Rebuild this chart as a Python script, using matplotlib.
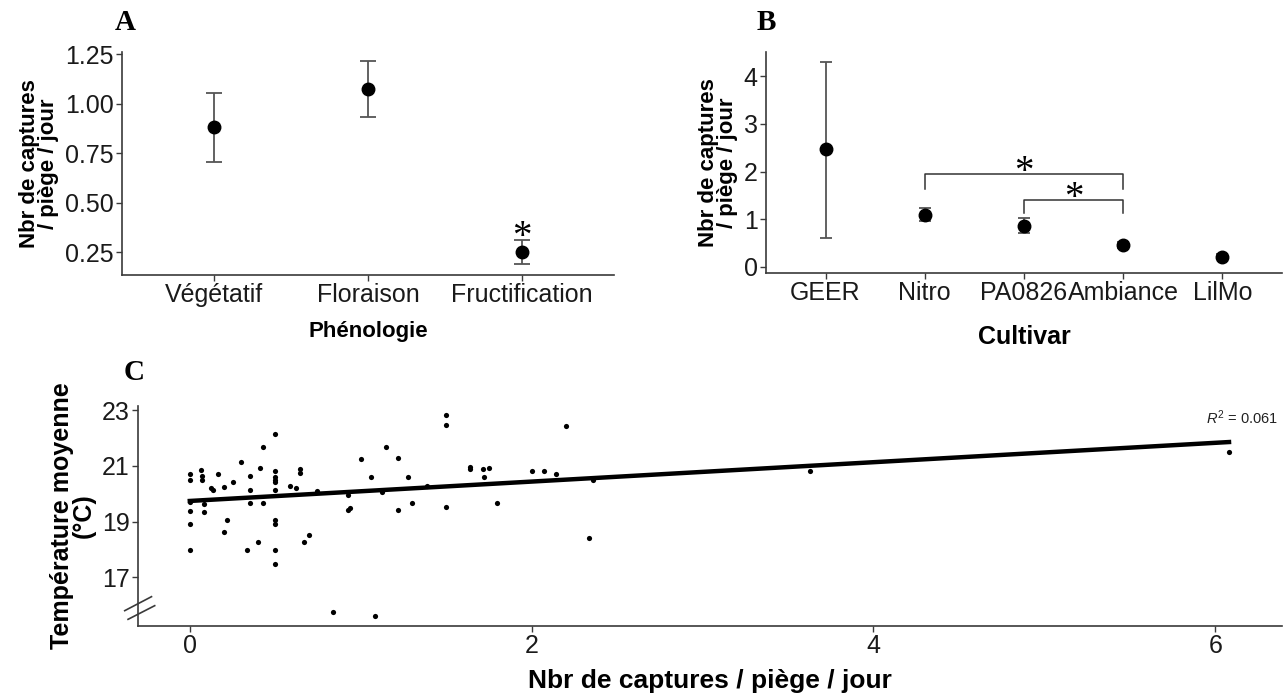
import numpy as np
import matplotlib
matplotlib.use('Agg')
import matplotlib.pyplot as plt

plt.rcParams['font.family'] = ['Liberation Sans', 'DejaVu Sans']
plt.rcParams['mathtext.fontset'] = 'custom'
plt.rcParams['mathtext.rm'] = 'Liberation Sans'
plt.rcParams['mathtext.it'] = 'Liberation Sans:italic'

# ---------------- Data ----------------
# Panel A : phenology
phen_cats = ['Végétatif', 'Floraison', 'Fructification']
phen_mean = [0.882, 1.076, 0.250]
phen_low = [0.706, 0.931, 0.189]
phen_high = [1.053, 1.215, 0.312]
phen_yticks = [0.25, 0.50, 0.75, 1.00, 1.25]
phen_signif = ['', '', '*']

# Panel B : cultivar
cult_cats = ['GEER', 'Nitro', 'PA0826', 'Ambiance', 'LilMo']
cult_mean = [2.47, 1.10, 0.87, 0.46, 0.22]
cult_low = [0.61, 0.96, 0.71, 0.40, 0.17]
cult_high = [4.31, 1.24, 1.03, 0.52, 0.27]
cult_yticks = [0, 1, 2, 3, 4]
# brackets: (left category, right category, top level, leg bottom)
brackets = [('Nitro', 'Ambiance', 1.95, 1.63),
            ('PA0826', 'Ambiance', 1.40, 1.13)]

# Panel C : captures vs temperature
capt_x = [0, 0, 0, 0, 0, 0,
          0.063, 0.072, 0.072, 0.084, 0.084, 0.127, 0.137, 0.166, 0.199,
          0.215, 0.199, 0.252, 0.300, 0.336, 0.355, 0.355, 0.355, 0.400,
          0.410, 0.427, 0.427,
          0.5, 0.5, 0.5, 0.5, 0.5, 0.5, 0.5, 0.5, 0.5, 0.5,
          0.585, 0.622, 0.644, 0.644, 0.667, 0.699, 0.745, 0.835, 0.927,
          0.927, 0.937, 0.999, 1.058, 1.085, 1.122, 1.146, 1.216, 1.216,
          1.275, 1.298, 1.390, 1.499, 1.499, 1.499, 1.639, 1.639, 1.716,
          1.721, 1.751, 1.799, 2.000, 2.070, 2.141, 2.200, 2.333, 2.358,
          3.630, 6.080]
temp_y = [20.71, 20.50, 19.72, 19.39, 18.91, 17.98,
          20.84, 20.62, 20.48, 19.64, 19.35, 20.20, 20.13, 20.71, 20.24,
          19.04, 18.64, 20.43, 21.15, 17.98, 20.64, 20.14, 19.65, 18.28,
          20.93, 21.68, 19.65,
          22.16, 20.80, 20.59, 20.50, 20.42, 20.13, 19.04, 18.91, 17.98, 17.49,
          20.26, 20.20, 20.90, 20.75, 18.27, 18.51, 20.08, 15.76, 19.96,
          19.42, 19.50, 21.25, 20.60, 15.61, 20.06, 21.68, 21.28, 19.42,
          20.60, 19.65, 20.29, 22.82, 22.46, 19.54, 20.96, 20.90, 20.89,
          20.60, 20.93, 19.65, 20.83, 20.83, 20.70, 22.42, 18.40, 20.50,
          20.80, 21.49]
fit_intercept = 19.74
fit_slope = 0.348
r2_value = 0.061
c_xticks = [0, 2, 4, 6]
c_yticks = [17, 19, 21, 23]

# ---------------- Style ----------------
AXC = '#3a3a3a'
TXT = '#1a1a1a'
ERRC = '#555555'

fig = plt.figure(figsize=(12.87, 6.96), dpi=100)
W, H = 1287.0, 696.0


def add_ax(l, t, r, b):
    return fig.add_axes([l / W, 1 - b / H, (r - l) / W, (b - t) / H])


def classic(ax, fs):
    for s in ['top', 'right']:
        ax.spines[s].set_visible(False)
    for s in ['left', 'bottom']:
        ax.spines[s].set_color(AXC)
        ax.spines[s].set_linewidth(1.2)
    ax.tick_params(colors=AXC, labelcolor=TXT, labelsize=fs, length=4, width=1, pad=2)


# ---------------- Panel A ----------------
axA = add_ax(122, 52, 614, 275)
xa = np.arange(1, len(phen_cats) + 1)
yerrA = [np.array(phen_mean) - np.array(phen_low), np.array(phen_high) - np.array(phen_mean)]
axA.errorbar(xa, phen_mean, yerr=yerrA, fmt='none', ecolor=ERRC, elinewidth=1.3,
             capsize=6, capthick=1.3, zorder=2)
axA.plot(xa, phen_mean, 'o', color='black', markersize=9, zorder=3)
for xi, hi, s in zip(xa, phen_high, phen_signif):
    if s:
        axA.annotate(s, (xi, hi), xytext=(0, -12), textcoords='offset points', ha='center',
                     va='bottom', fontsize=28, family='Liberation Serif')
axA.set_xlim(0.4, 3.6)
axA.set_ylim(0.134, 1.262)
axA.set_xticks(xa)
axA.set_xticklabels(phen_cats)
axA.set_yticks(phen_yticks)
axA.set_yticklabels([f'{v:.2f}' for v in phen_yticks])
classic(axA, 18)
axA.set_xlabel('Phénologie', fontsize=16, fontweight='bold', labelpad=10)
axA.set_ylabel('Nbr de captures\n/ piège / jour', fontsize=16, fontweight='bold',
               labelpad=4, linespacing=0.9)

# ---------------- Panel B ----------------
axB = add_ax(766, 52, 1282, 273)
xb = np.arange(1, len(cult_cats) + 1)
yerrB = [np.array(cult_mean) - np.array(cult_low), np.array(cult_high) - np.array(cult_mean)]
axB.errorbar(xb, cult_mean, yerr=yerrB, fmt='none', ecolor=ERRC, elinewidth=1.3,
             capsize=4, capthick=1.3, zorder=2)
axB.plot(xb, cult_mean, 'o', color='black', markersize=9, zorder=3)
for c1, c2, ytop, ybot in brackets:
    x1 = cult_cats.index(c1) + 1
    x2 = cult_cats.index(c2) + 1
    axB.plot([x1, x1, x2, x2], [ybot, ytop, ytop, ybot], color='#333333', lw=1.1)
    axB.annotate('*', ((x1 + x2) / 2, ytop), xytext=(0, -12), textcoords='offset points',
                 ha='center', va='bottom', fontsize=28, family='Liberation Serif')
axB.set_xlim(0.4, 5.6)
axB.set_ylim(-0.126, 4.51)
axB.set_xticks(xb)
axB.set_xticklabels(cult_cats)
axB.set_yticks(cult_yticks)
classic(axB, 18)
axB.set_xlabel('Cultivar', fontsize=18, fontweight='bold', labelpad=14)
axB.set_ylabel('Nbr de captures\n/ piège / jour', fontsize=16, fontweight='bold',
               labelpad=4, linespacing=0.9)

# ---------------- Panel C ----------------
axC = add_ax(138, 406, 1282, 626)
axC.scatter(capt_x, temp_y, s=14, color='black', zorder=3, linewidths=0)
xl = np.array([0, max(capt_x)])
axC.plot(xl, fit_intercept + fit_slope * xl, color='black', lw=3.2, zorder=2)
axC.text(0.9965, 0.945, r'$R^2$' + f' = {r2_value}', transform=axC.transAxes,
         ha='right', va='center', fontsize=10.5, color='#222222')
axC.set_xlim(-0.303, 6.39)
axC.set_ylim(15.25, 23.15)
axC.set_xticks(c_xticks)
axC.set_yticks(c_yticks)
classic(axC, 18)
# axis break marks
for (x0, y0, x1, y1) in [(-0.0116, 0.0697, 0.0118, 0.1333),
                         (-0.0087, 0.0303, 0.0146, 0.0924)]:
    axC.plot([x0, x1], [y0, y1], transform=axC.transAxes, color=AXC, lw=1.2,
             clip_on=False, zorder=5)
axC.set_xlabel('Nbr de captures / piège / jour', fontsize=19, fontweight='bold', labelpad=8)
axC.set_ylabel('Température moyenne\n(°C)', fontsize=18, fontweight='bold',
               labelpad=4, linespacing=0.9)

# ---------------- Panel letters ----------------
for lab, (px, py) in zip(['A', 'B', 'C'], [(125, 23), (766, 23), (134, 373)]):
    fig.text(px / W, 1 - py / H, lab, ha='center', va='center', fontsize=21,
             fontweight='bold', family='Liberation Serif')

fig.savefig('out.png', dpi=100, facecolor='white')
